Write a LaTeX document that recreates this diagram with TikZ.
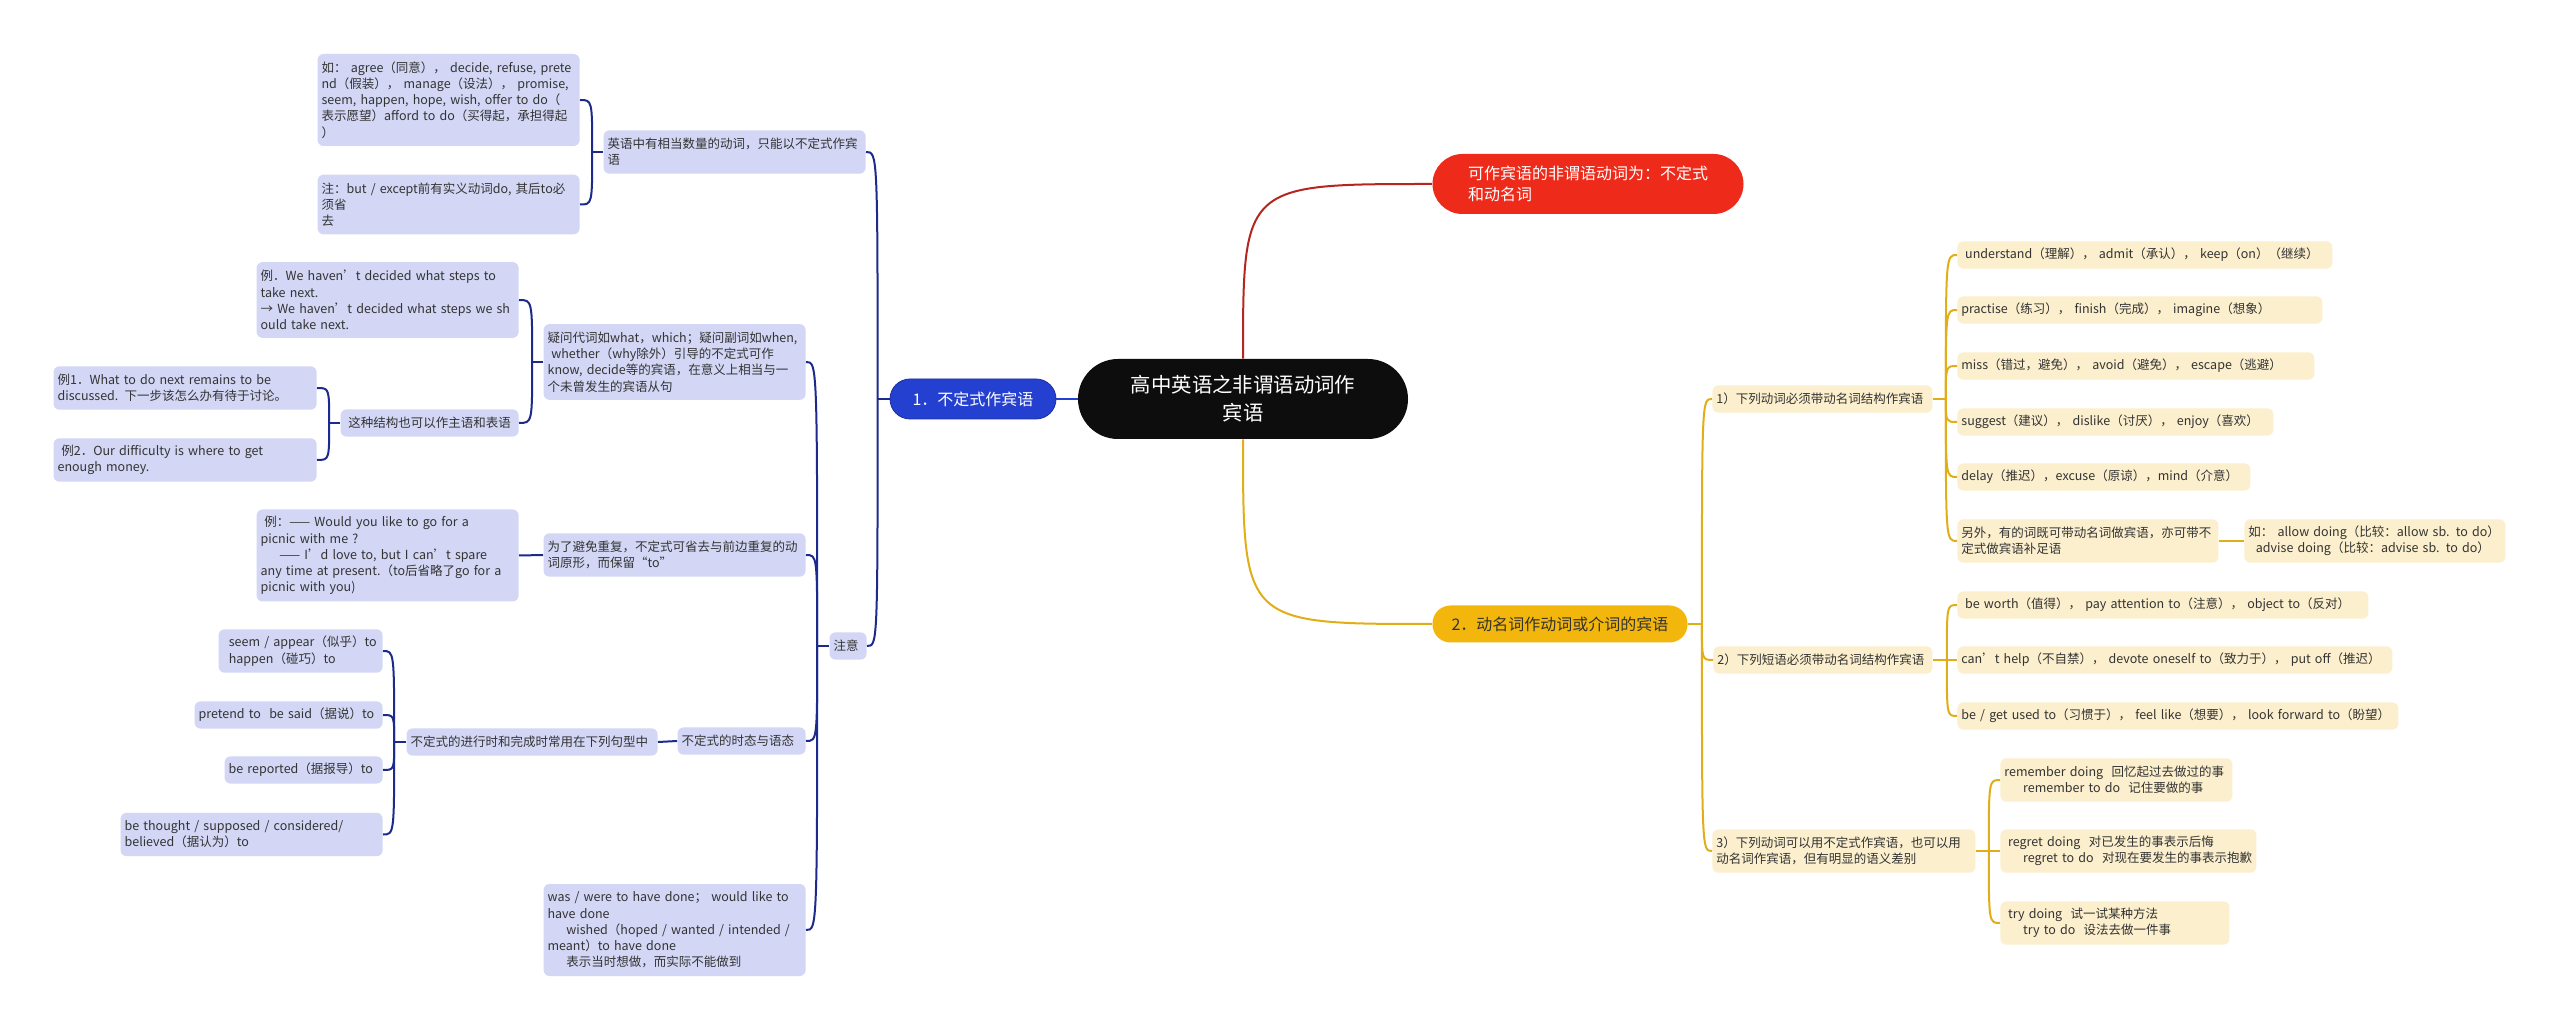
\documentclass[tikz,border=0pt]{standalone}
\usepackage{fontspec}
\newfontfamily\cjk{Noto Sans CJK SC}
\usepackage{xcolor}
\definecolor{rootfill}{HTML}{0D0D0D}
\definecolor{mainblue}{HTML}{2440D0}
\definecolor{mainblueline}{HTML}{1B2FA0}
\definecolor{mainred}{HTML}{EE2B1B}
\definecolor{maingold}{HTML}{F2B60C}
\definecolor{leafblue}{HTML}{D3D7F5}
\definecolor{leafcream}{HTML}{FCEFCD}
\definecolor{leaftext}{HTML}{333333}
\definecolor{navyline}{HTML}{1C2A8C}
\definecolor{redline}{HTML}{B5271E}
\definecolor{goldline}{HTML}{E2AE18}

\tikzset{
  rootbox/.style={fill=rootfill, text=white, rounded corners=20pt,
    minimum width=165pt, minimum height=40pt, align=center, inner sep=2pt,
    font=\cjk\fontsize{10.2}{14}\selectfont},
  mainbox/.style={text=white, align=left, inner sep=2pt,
    font=\cjk\fontsize{8}{10.8}\selectfont},
  leafbox/.style={rounded corners=3pt, align=left, text=leaftext,
    inner xsep=2pt, inner ysep=1pt, font=\cjk\fontsize{6.25}{8.1}\selectfont},
  leafL/.style={leafbox, fill=leafblue, anchor=east},
  leafR/.style={leafbox, fill=leafcream, anchor=west},
  nl/.style={minimum height=5.5pt+#1*8.1pt},
  linkL/.style={draw=navyline, line width=1pt},
  linkR/.style={draw=goldline, line width=1pt},
}

\begin{document}
\begin{tikzpicture}[x=0.5pt, y=-0.5pt]
  \fill[white] (0,0) rectangle (2560,1031);
  \useasboundingbox (0,0) rectangle (2560,1031);

  % centre and main topics
  \node[rootbox] (root) at (1243,399) {高中英语之非谓语动词作\\宾语};
  \node[mainbox, fill=mainblue, draw=mainblueline, rounded corners=10pt,
    minimum width=83pt, minimum height=20pt, align=center] (n1) at (973,399) {1．不定式作宾语};
  \node[mainbox, fill=mainred, rounded corners=15pt,
    minimum width=155.5pt, minimum height=30pt] (n2) at (1588,184) {可作宾语的非谓语动词为：不定式\\和动名词};
  \node[mainbox, fill=maingold, text=leaftext, rounded corners=9pt,
    minimum width=127.5pt, minimum height=18.5pt, align=center] (n3) at (1560,624) {2．动名词作动词或介词的宾语};

  % left branch
  \node[leafL, text width=127pt, nl=2] (a1) at (866,152) {英语中有相当数量的动词，只能以不定式作宾\\语};
  \node[leafL, text width=127pt, nl=5] (a11) at (580,100) {如： agree（同意）， decide, refuse, prete\\nd（假装）， manage（设法）， promise,\\seem, happen, hope, wish, offer to do（\\表示愿望）afford to do（买得起，承担得起\\）};
  \node[leafL, text width=127pt, nl=3] (a12) at (580,204.5) {注：but / except前有实义动词do, 其后to必\\须省\\去};

  \node[leafL, text width=14.5pt, nl=1] (a2) at (867,646) {注意};
  \node[leafL, text width=127pt, nl=4] (a21) at (806,362) {疑问代词如what，which；疑问副词如when,\\\hspace*{0.3em}whether（why除外）引导的不定式可作\\know, decide等的宾语，在意义上相当与一\\个未曾发生的宾语从句};
  \node[leafL, text width=127pt, nl=4] (a211) at (519,300) {例．We haven’t decided what steps to\\take next.\\→ We haven’t decided what steps we sh\\ould take next.};
  \node[leafL, text width=85pt, nl=1] (a212) at (519,423) {\hspace*{0.3em}这种结构也可以作主语和表语};
  \node[leafL, text width=127.5pt, nl=2] (a2121) at (317,388) {例1．What to do next remains to be\\discussed. 下一步该怎么办有待于讨论。};
  \node[leafL, text width=127.5pt, nl=2] (a2122) at (317,460) {\hspace*{0.3em}例2．Our difficulty is where to get\\enough money.};

  \node[leafL, text width=127pt, nl=2] (a22) at (806,555) {为了避免重复，不定式可省去与前边重复的动\\词原形，而保留“to”};
  \node[leafL, text width=127pt, nl=5] (a221) at (519,555.5) {\hspace*{0.3em}例：—— Would you like to go for a\\picnic with me ?\\\hspace*{1.5em}—— I’d love to, but I can’t spare\\any time at present.（to后省略了go for a\\picnic with you)};

  \node[leafL, text width=60pt, nl=1] (a23) at (806,741) {不定式的时态与语态};
  \node[leafL, text width=121.5pt, nl=1] (a231) at (658,742) {不定式的进行时和完成时常用在下列句型中};
  \node[leafL, text width=78pt, nl=2] (a2311) at (383,651) {\hspace*{0.5em}seem / appear（似乎）to\\\hspace*{0.5em}happen（碰巧）to};
  \node[leafL, text width=90pt, nl=1] (a2312) at (383,715) {pretend to\ \ be said（据说）to};
  \node[leafL, text width=75pt, nl=1] (a2313) at (383,770) {be reported（据报导）to};
  \node[leafL, text width=127pt, nl=2] (a2314) at (383,834.5) {be thought / supposed / considered/\\believed（据认为）to};

  \node[leafL, text width=127pt, nl=5] (a24) at (806,930) {was / were to have done； would like to\\have done\\\hspace*{1.5em}wished（hoped / wanted / intended /\\meant）to have done\\\hspace*{1.5em}表示当时想做，而实际不能做到};

  % right branch
  \node[leafR, text width=106pt, nl=1] (b1) at (1712,399) {1）下列动词必须带动名词结构作宾语};
  \node[leafR, text width=183.5pt, nl=1] (b11) at (1957,255) {\hspace*{0.3em}understand（理解）， admit（承认）， keep（on）（继续）};
  \node[leafR, text width=178.5pt, nl=1] (b12) at (1957,310) {practise（练习）， finish（完成）， imagine（想象）};
  \node[leafR, text width=174.5pt, nl=1] (b13) at (1957,366) {miss（错过，避免）， avoid（避免）， escape（逃避）};
  \node[leafR, text width=154pt, nl=1] (b14) at (1957,422) {suggest（建议）， dislike（讨厌）， enjoy（喜欢）};
  \node[leafR, text width=142.5pt, nl=1] (b15) at (1957,477) {delay（推迟），excuse（原谅），mind（介意）};
  \node[leafR, text width=126.5pt, nl=2] (b16) at (1957,541) {另外，有的词既可带动名词做宾语，亦可带不\\定式做宾语补足语};
  \node[leafR, text width=126.5pt, nl=2] (b161) at (2244,541) {如： allow doing（比较：allow sb. to do）\\\hspace*{0.6em}advise doing（比较：advise sb. to do）};

  \node[leafR, text width=105.5pt, nl=1] (b2) at (1713,660) {2）下列短语必须带动名词结构作宾语};
  \node[leafR, text width=201.5pt, nl=1] (b21) at (1957,605) {\hspace*{0.3em}be worth（值得）， pay attention to（注意）， object to（反对）};
  \node[leafR, text width=213.5pt, nl=1] (b22) at (1957,660) {can’t help（不自禁）， devote oneself to（致力于）， put off（推迟）};
  \node[leafR, text width=216.5pt, nl=1] (b23) at (1957,716) {be / get used to（习惯于）， feel like（想要）， look forward to（盼望）};

  \node[leafR, text width=127.5pt, nl=2] (b3) at (1712,851) {3）下列动词可以用不定式作宾语，也可以用\\动名词作宾语，但有明显的语义差别};
  \node[leafR, text width=112pt, nl=2] (b31) at (2000,780) {remember doing\ \ 回忆起过去做过的事\\\hspace*{1.5em}remember to do\ \ 记住要做的事};
  \node[leafR, text width=124pt, nl=2] (b32) at (2000,851) {\hspace*{0.3em}regret doing\ \ 对已发生的事表示后悔\\\hspace*{1.5em}regret to do\ \ 对现在要发生的事表示抱歉};
  \node[leafR, text width=110.5pt, nl=2] (b33) at (2000,923) {\hspace*{0.3em}try doing\ \ 试一试某种方法\\\hspace*{1.5em}try to do\ \ 设法去做一件事};

  % links from the centre
  \draw[line width=1.2pt, mainblue] (n1.east) -- (root.west);
  \draw[line width=1pt, redline] (root.north) .. controls (root.north |- n2.west) .. (n2.west);
  \draw[line width=1pt, goldline] (root.south) .. controls (root.south |- n3.west) .. (n3.west);

  % left links
  \draw[linkL] (n1.west) -- ++(-12,0) coordinate (j1);
  \foreach \c in {a1,a2} \draw[linkL] (j1) .. controls (j1 |- \c.east) .. (\c.east);
  \draw[linkL] (a1.west) -- ++(-11,0) coordinate (ja1);
  \foreach \c in {a11,a12} \draw[linkL] (ja1) .. controls (ja1 |- \c.east) .. (\c.east);
  \draw[linkL] (a2.west) -- ++(-12,0) coordinate (ja2);
  \foreach \c in {a21,a22,a23,a24} \draw[linkL] (ja2) .. controls (ja2 |- \c.east) .. (\c.east);
  \draw[linkL] (a21.west) -- ++(-11,0) coordinate (ja21);
  \foreach \c in {a211,a212} \draw[linkL] (ja21) .. controls (ja21 |- \c.east) .. (\c.east);
  \draw[linkL] (a212.west) -- ++(-11,0) coordinate (ja212);
  \foreach \c in {a2121,a2122} \draw[linkL] (ja212) .. controls (ja212 |- \c.east) .. (\c.east);
  \draw[linkL] (a22.west) -- (a221.east);
  \draw[linkL] (a23.west) -- (a231.east);
  \draw[linkL] (a231.west) -- ++(-12,0) coordinate (ja231);
  \foreach \c in {a2311,a2312,a2313,a2314} \draw[linkL] (ja231) .. controls (ja231 |- \c.east) .. (\c.east);

  % right links
  \draw[linkR] (n3.east) -- ++(14,0) coordinate (jn3);
  \foreach \c in {b1,b2,b3} \draw[linkR] (jn3) .. controls (jn3 |- \c.west) .. (\c.west);
  \draw[linkR] (b1.east) -- ++(13,0) coordinate (jb1);
  \foreach \c in {b11,b12,b13,b14,b15,b16} \draw[linkR] (jb1) .. controls (jb1 |- \c.west) .. (\c.west);
  \draw[linkR] (b16.east) -- (b161.west);
  \draw[linkR] (b2.east) -- ++(14,0) coordinate (jb2);
  \foreach \c in {b21,b22,b23} \draw[linkR] (jb2) .. controls (jb2 |- \c.west) .. (\c.west);
  \draw[linkR] (b3.east) -- ++(13,0) coordinate (jb3);
  \foreach \c in {b31,b32,b33} \draw[linkR] (jb3) .. controls (jb3 |- \c.west) .. (\c.west);
\end{tikzpicture}
\end{document}
